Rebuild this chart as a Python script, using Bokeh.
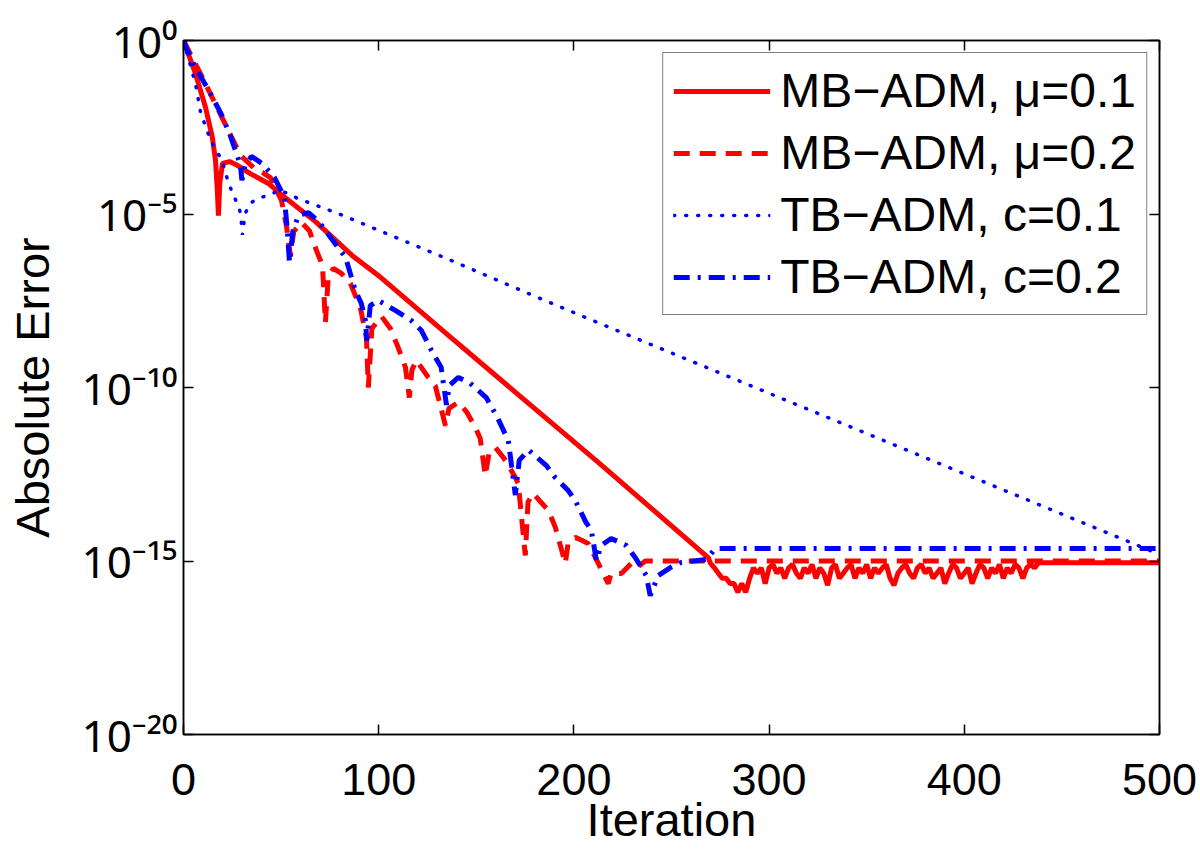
from bokeh.plotting import figure
from bokeh.models import Range1d, LinearAxis, LogAxis, FixedTicker, CustomJSTickFormatter
from bokeh.embed import file_html
from bokeh.resources import INLINE

# ---- data: iteration and log10(absolute error) ----
mb01_iter = [0, 6.1, 11.3, 14.8, 16.4, 17.3, 17.9, 18.6, 20, 23.6, 27, 34, 43.5, 49.2, 67.6,
             86.5, 99.8, 135.7, 212.5, 268.8,
             270, 272, 274, 276, 278, 280, 282, 284, 286, 288, 290, 292, 294, 296, 298, 300,
             302, 304, 306, 308, 310, 312, 314, 316, 318, 320, 322, 324, 326, 328, 330, 332,
             334, 336, 338, 340, 342, 344, 346, 348, 350, 352, 354, 356, 358, 360, 362, 364,
             366, 368, 370, 372, 374, 376, 378, 380, 382, 384, 386, 388, 390, 392, 394, 396,
             398, 400, 402, 404, 406, 408, 410, 412, 414, 416, 418, 420, 422, 424, 426, 428,
             430, 432, 434, 436, 438, 440, 500]
mb01_log = [0, -0.95, -1.93, -2.8, -3.46, -4.3, -5.05, -4.1, -3.54, -3.49, -3.58, -3.83, -4.12, -4.40, -5.22,
            -6.2, -6.77, -8.5, -12.16, -14.9,
            -15.07, -15.2, -15.35, -15.5, -15.5, -15.65, -15.65, -15.9, -15.65, -15.9, -15.5, -15.2, -15.35, -15.2, -15.65, -15.2,
            -15.1, -15.35, -15.2, -15.5, -15.2, -15.1, -15.35, -15.5, -15.2, -15.35, -15.1, -15.5, -15.2, -15.35, -15.7, -15.2,
            -15.1, -15.5, -15.35, -15.2, -15.1, -15.5, -15.2, -15.35, -15.1, -15.5, -15.2, -15.35, -15.2, -15.1, -15.5, -15.7,
            -15.35, -15.2, -15.1, -15.35, -15.5, -15.2, -15.1, -15.35, -15.2, -15.5, -15.35, -15.2, -15.65, -15.35, -15.1, -15.2,
            -15.5, -15.35, -15.2, -15.65, -15.35, -15.1, -15.2, -15.5, -15.2, -15.35, -15.1, -15.5, -15.2, -15.35, -15.1, -15.2,
            -15.5, -15.2, -15.1, -15.2, -15.05, -15.05, -15.05]

mb02_iter = [0, 9.7, 20.5, 29.2, 36.4, 40.4, 44.5, 50.2, 52.7, 54.8, 56.5, 60.4, 64.5, 68.1, 71.2,
             72.7, 74.2, 76.8, 81, 85.5, 90.6, 93.7, 94.7, 96.5, 101.4, 106, 110, 113.7, 115.7,
             117, 119.3, 125.4, 129, 134.2, 136, 140.8, 145, 149.5, 152, 154.6, 156.5, 159.8,
             165, 170, 171.5, 175.1, 176.5, 179.2, 183, 186.9, 190.5, 195.6, 197, 200.7, 204,
             207.4, 212.5, 217.6, 219, 224.3, 229.4, 232, 236.6, 500]
mb02_log = [0, -1.07, -2.31, -3.31, -3.69, -3.80, -3.95, -4.61, -5.33, -6.2, -5.5, -5.24, -5.48, -6.05, -6.48,
            -8.13, -6.77, -6.57, -6.72, -7.0, -7.7, -8.56, -10.0, -8.3, -7.95, -8.3, -8.85, -9.42, -10.29,
            -9.5, -9.22, -9.71, -9.95, -11.1, -10.6, -10.43, -10.7, -11.15, -11.47, -12.54, -11.9, -11.73,
            -12.1, -12.6, -12.77, -14.84, -13.3, -13.05, -13.3, -13.54, -14.03, -15.07, -14.5, -14.32, -14.4,
            -14.5, -15.07, -15.65, -15.36, -15.36, -15.07, -15.2, -15.0, -15.0]

tb01_iter = [0, 6.1, 8.7, 12, 15.9, 20, 21.5, 24, 26.6, 29.2, 30.2, 31.5, 34, 37.9, 44.5, 49.2,
             58.4, 79.4, 137.2, 176.6, 208.4, 500]
tb01_log = [0, -1.24, -2.05, -2.6, -3.11, -3.46, -3.83, -4.24, -4.58, -4.96, -5.6, -5.0, -4.7, -4.55, -4.45, -4.3,
            -4.55, -4.99, -6.34, -7.29, -8.04, -14.81]

tb02_iter = [0, 2, 5.6, 13.8, 18.9, 23.6, 26.6, 29.2, 29.9, 31.5, 34.8, 40.4, 46.6, 51.7, 53.2, 54.3,
             56, 58.9, 64, 69.6, 78.3, 83, 88, 91.1, 93.2, 93.9, 95.7, 99.8, 108.5, 116.7, 121.9,
             127, 132, 134.7, 136.2, 140.8, 146.9, 155.1, 160.8, 166.4, 170, 172, 176.7, 185.9,
             190.5, 197.1, 200.7, 206.3, 208.9, 211.5, 214, 219.1, 226.8, 231.4, 237.1, 239.1,
             243.2, 249.4, 255, 262.7, 268, 272.4, 500]
tb02_log = [0, -0.29, -0.72, -1.53, -2.07, -2.68, -3.17, -3.6, -4.03, -3.6, -3.34, -3.55, -3.95, -4.52, -5.48, -6.4,
            -5.5, -5.04, -4.96, -5.24, -5.9, -6.25, -7.2, -7.58, -8.07, -8.65, -7.64, -7.49, -7.78, -8.07, -8.36,
            -8.93, -9.42, -10.5, -9.94, -9.71, -9.88, -10.29, -10.86, -11.53, -13.1, -12.1, -11.8, -12.25,
            -12.6, -12.97, -13.26, -13.9, -14.1, -14.99, -14.55, -14.35, -14.55, -14.9, -15.42, -16.0,
            -15.42, -15.19, -15.04, -14.99, -14.95, -14.64, -14.64]

series_names = ["MB\u2212ADM, \u03bc=0.1", "MB\u2212ADM, \u03bc=0.2",
                "TB\u2212ADM, c=0.1", "TB\u2212ADM, c=0.2"]

x_ticks = [0, 100, 200, 300, 400, 500]
y_tick_exponents = [0, -5, -10, -15, -20]
y_tick_labels = ["10\u2070", "10\u207b\u2075", "10\u207b\u00b9\u2070",
                 "10\u207b\u00b9\u2075", "10\u207b\u00b2\u2070"]

FONT = "Liberation Sans"
SUP_FONT = "Noto Sans"


def tenpow(vals):
    return [10.0 ** v for v in vals]


p = figure(frame_width=976, frame_height=694,
           x_range=Range1d(0, 500), y_range=Range1d(1e-20, 1),
           y_axis_type="log", output_backend="svg", toolbar_location=None,
           min_border_left=183, min_border_right=38, min_border_top=40,
           min_border_bottom=100, background_fill_color="white",
           border_fill_color="white")

p.xgrid.visible = False
p.ygrid.visible = False
p.outline_line_color = "black"
p.outline_line_width = 1.5
p.outline_line_alpha = 1.0

# bottom axis
xa = p.xaxis[0]
xa.ticker = FixedTicker(ticks=x_ticks)
xa.major_label_text_font = FONT
xa.major_label_text_font_size = "45px"
xa.major_label_text_color = "black"
xa.major_label_standoff = 29
xa.major_tick_in = 10
xa.major_tick_out = 0
xa.minor_tick_line_color = None
xa.axis_line_width = 1.5
xa.major_tick_line_width = 1.5
xa.axis_label = "Iteration"
xa.axis_label_text_font = FONT
xa.axis_label_text_font_size = "47px"
xa.axis_label_text_font_style = "normal"
xa.axis_label_text_color = "black"
xa.axis_label_standoff = -5

# left axis: 10 with superscript exponent
ya = p.yaxis[0]
ya.ticker = FixedTicker(ticks=[10.0 ** e for e in y_tick_exponents], minor_ticks=[])
ya.formatter = CustomJSTickFormatter(
    args=dict(exps=y_tick_exponents, labels=y_tick_labels),
    code="const e = Math.round(Math.log10(tick)); const i = exps.indexOf(e); return i >= 0 ? labels[i] : ' ';")
ya.major_label_text_font = SUP_FONT
ya.major_label_text_font_size = "44px"
ya.major_label_text_color = "black"
ya.major_label_standoff = 6
ya.major_tick_in = 10
ya.major_tick_out = 0
ya.minor_tick_line_color = None
ya.axis_line_width = 1.5
ya.major_tick_line_width = 1.5
ya.axis_label = "Absolute Error"
ya.axis_label_text_font = FONT
ya.axis_label_text_font_size = "47px"
ya.axis_label_text_font_style = "normal"
ya.axis_label_text_color = "black"
ya.axis_label_standoff = 19

# mirrored ticks on top and right
top = LinearAxis(ticker=FixedTicker(ticks=x_ticks), formatter=CustomJSTickFormatter(code="return ' '"),
                 major_label_text_font_size="8px",
                 major_tick_in=10, major_tick_out=0, minor_tick_line_color=None,
                 axis_line_color="black", axis_line_width=1.5, major_tick_line_width=1.5,
                 major_label_standoff=0)
p.add_layout(top, "above")
right = LogAxis(ticker=FixedTicker(ticks=[10.0 ** e for e in y_tick_exponents], minor_ticks=[]),
                formatter=CustomJSTickFormatter(code="return ' '"),
                major_label_text_font_size="8px", major_tick_in=10, major_tick_out=0,
                minor_tick_line_color=None, axis_line_color="black", axis_line_width=1.5,
                major_tick_line_width=1.5, major_label_standoff=0)
p.add_layout(right, "right")

# series
p.line(mb01_iter, tenpow(mb01_log), line_color="red", line_width=5,
       legend_label=series_names[0])
p.line(mb02_iter, tenpow(mb02_log), line_color="red", line_width=5, line_dash="16 10",
       legend_label=series_names[1])
p.line(tb01_iter, tenpow(tb01_log), line_color="blue", line_width=3.5, line_dash="1 11",
       line_cap="round", legend_label=series_names[2])
p.line(tb02_iter, tenpow(tb02_log), line_color="blue", line_width=5, line_dash="16 8 3 8",
       legend_label=series_names[3])

lg = p.legend[0]
lg.location = "top_right"
lg.margin = 12
lg.padding = 10
lg.spacing = 7
lg.label_text_font = FONT
lg.label_text_font_size = "48px"
lg.label_text_color = "black"
lg.glyph_width = 97
lg.glyph_height = 30
lg.label_standoff = 10
lg.border_line_color = "black"
lg.border_line_width = 1.5
lg.background_fill_color = "white"
lg.background_fill_alpha = 1.0

open("out.html", "w").write(file_html(p, INLINE))
